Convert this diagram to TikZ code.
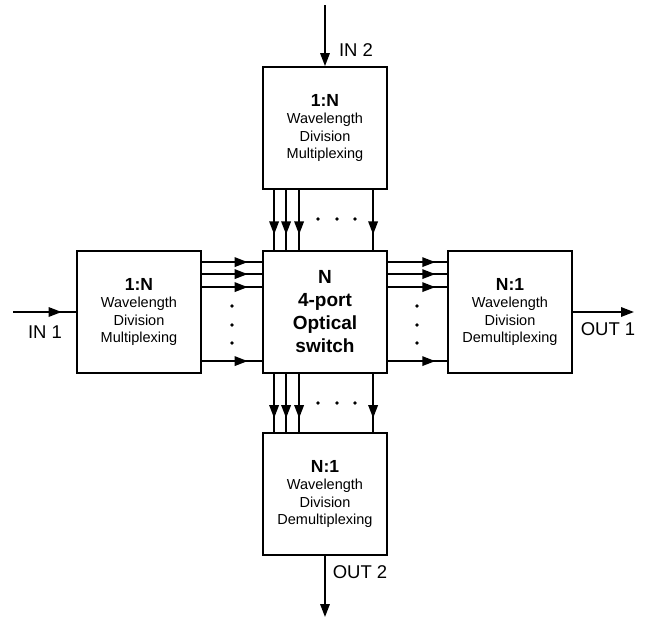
\documentclass[tikz,border=0pt]{standalone}
\usepackage{fontspec}
\setmainfont{Liberation Sans}
\usetikzlibrary{arrows.meta,decorations.markings,calc}
\begin{document}
\begin{tikzpicture}[x=1pt,y=-1pt,
 box/.style={draw,line width=1.8pt,minimum width=124pt,minimum height=122pt,align=center,inner sep=0pt,font=\fontsize{14.5}{17.5}\selectfont},
 midarr/.style={line width=1.7pt,postaction={decorate},decoration={markings,mark=at position #1 with {\arrow{Triangle[length=13pt,width=9.5pt]}}}},
 endarr/.style={line width=1.7pt,-{Triangle[length=13pt,width=9.5pt]}},
 lbl/.style={font=\fontsize{18.5}{22}\selectfont},
 dotn/.style={circle,fill,inner sep=0pt,minimum size=3.8pt}
]
\useasboundingbox (0,0) rectangle (649,619);
\newcommand{\ttl}[1]{{\bfseries\fontsize{17.5}{20}\selectfont #1}}

\node[box] (T) at (325,128) {\ttl{1:N}\\Wavelength\\Division\\Multiplexing};
\node[box,font=\bfseries\fontsize{19}{23}\selectfont] (C) at (325,312) {N\\4-port\\Optical\\switch};
\node[box] (L) at (139,312) {\ttl{1:N}\\Wavelength\\Division\\Multiplexing};
\node[box] (R) at (510,312) {\ttl{N:1}\\Wavelength\\Division\\Demultiplexing};
\node[box] (B) at (325,494) {\ttl{N:1}\\Wavelength\\Division\\Demultiplexing};

% inputs / outputs
\coordinate (in2) at (325,5);
\coordinate (in1) at (13,312);
\coordinate (out1) at (634,312);
\coordinate (out2) at (325,617);
\draw[endarr] (in2) -- (T.north);
\draw[midarr=0.77] (in1) -- (L.west);
\draw[endarr] (R.east) -- (out1);
\draw[endarr] (B.south) -- (out2);
\node[lbl] (lin2) at (356,50) {IN 2};
\node[lbl] (lin1) at (45,332) {IN 1};
\node[lbl] (lout1) at (608,329) {OUT 1};
\node[lbl] (lout2) at (360,572) {OUT 2};

% parallel connectors
\foreach \o in {12,24,37,111}{
  \draw[midarr=0.74] ($(T.south west)+(\o,0)$) -- ($(C.north west)+(\o,0)$);
  \draw[midarr=0.76] ($(C.south west)+(\o,0)$) -- ($(B.north west)+(\o,0)$);
  \draw[midarr=0.76] ($(L.north east)+(0,\o)$) -- ($(C.north west)+(0,\o)$);
  \draw[midarr=0.8] ($(C.north east)+(0,\o)$) -- ($(R.north west)+(0,\o)$);
}
% dots
\foreach \x [count=\i] in {318,337,355}{
  \node[dotn] (dt\i) at (\x,219) {};
  \node[dotn] (db\i) at (\x,403) {};
}
\foreach \y [count=\i] in {306,325,343}{
  \node[dotn] (dl\i) at (232,\y) {};
  \node[dotn] (dr\i) at (417,\y) {};
}
\end{tikzpicture}
\end{document}
